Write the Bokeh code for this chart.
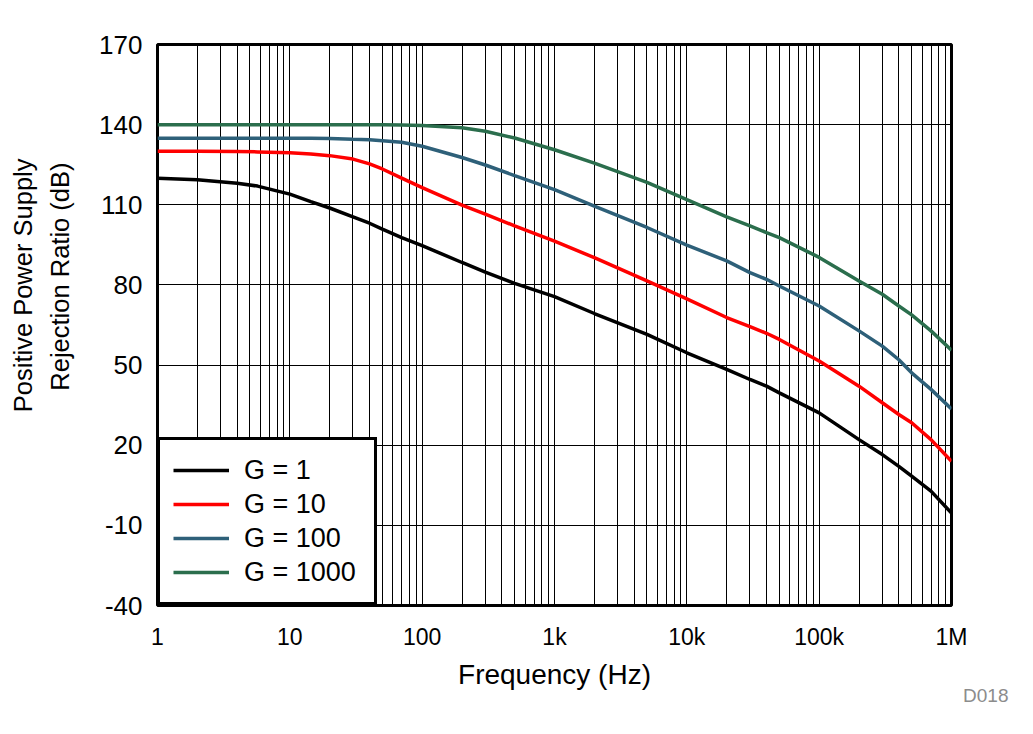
from bokeh.plotting import figure
from bokeh.models import FixedTicker, Legend, LegendItem, Range1d, Title
from bokeh.embed import file_html
from bokeh.resources import INLINE

# Frequency points (Hz)
freq = [1, 2, 4, 5.7, 10, 14.4, 20, 30, 40, 50, 70, 100, 200, 300, 500,
        1e3, 2e3, 5e3, 1e4, 2e4, 3e4, 4e4, 5e4, 1e5, 2e5, 3e5, 4e5, 5e5,
        7e5, 1e6]

# PSRR (dB) per gain
g1 = [119.9, 119.4, 118.1, 117, 114, 111.2, 108.8, 105.5, 103.1, 100.9,
      97.7, 94.7, 88.4, 84.8, 80.6, 75.6, 69.3, 61.5, 54.6, 48.4, 44.6,
      42.1, 39.6, 32.1, 22.1, 16.5, 12.1, 8.4, 2.8, -5.4]
g10 = [130, 130, 129.9, 129.8, 129.5, 129, 128.4, 127.1, 125.3, 123.4,
       120.0, 116.4, 109.9, 106.5, 102.1, 96.4, 90.2, 81.5, 74.8, 67.8, 64.4,
       61.9, 59.6, 51.5, 42.1, 35.9, 31.5, 28.4, 22.1, 14]
g100 = [134.9, 134.9, 134.9, 134.9, 134.9, 134.9, 134.8, 134.5, 134.3, 134,
        133.4, 131.9, 127.7, 124.9, 120.9, 115.7, 109.5, 101.5, 94.9, 89, 84.6,
        82.1, 79.6, 72.1, 62.8, 57.1, 52, 47.1, 40.9, 33.6]
g1000 = [140, 140, 140, 140, 140, 140, 140, 140, 140, 140, 139.9, 139.7,
         138.8, 137.5, 135, 130.6, 125.6, 118.4, 111.9, 105.5, 102.1, 99.6,
         97.7, 90.3, 81.5, 76.5, 72.1, 68.8, 62.8, 55.6]

series_names = ["G = 1", "G = 10", "G = 100", "G = 1000"]
series_values = [g1, g10, g100, g1000]
colors = ["#000000", "#FF0000", "#2E6079", "#2B6E4D"]

y_ticks = [-40, -10, 20, 50, 80, 110, 140, 170]
y_tick_labels = ["-40", "-10", "20", "50", "80", "110", "140", "170"]
x_ticks = [1, 10, 100, 1000, 10000, 100000, 1000000]
x_tick_labels = ["1", "10", "100", "1k", "10k", "100k", "1M"]

p = figure(width=1017, height=718, x_axis_type="log",
           x_range=Range1d(1, 1e6), y_range=Range1d(-40, 170),
           output_backend="svg", toolbar_location=None,
           min_border_left=157, min_border_right=66,
           min_border_top=44, min_border_bottom=113)

p.outline_line_color = "black"
p.outline_line_width = 3
p.outline_line_alpha = 1.0
p.background_fill_color = "white"
p.border_fill_color = "white"

minor = [m * d for d in x_ticks[:-1] for m in range(2, 10)]
p.xaxis.ticker = FixedTicker(ticks=x_ticks, minor_ticks=minor)
p.xaxis.major_label_overrides = {t: l for t, l in zip(x_ticks, x_tick_labels)}
p.yaxis.ticker = FixedTicker(ticks=y_ticks)
p.yaxis.major_label_overrides = {t: l for t, l in zip(y_ticks, y_tick_labels)}

for ax in (p.xaxis, p.yaxis):
    ax.axis_line_color = None
    ax.major_tick_line_color = None
    ax.minor_tick_line_color = None

p.xaxis.major_label_text_font = "Liberation Sans"
p.xaxis.major_label_text_font_size = "23px"
p.xaxis.major_label_text_color = "black"
p.xaxis.major_label_standoff = 12
p.xaxis.axis_label = "Frequency (Hz)"
p.xaxis.axis_label_text_font = "Liberation Sans"
p.xaxis.axis_label_text_font_size = "28px"
p.xaxis.axis_label_text_font_style = "normal"
p.xaxis.axis_label_text_color = "black"
p.xaxis.axis_label_standoff = 6

p.yaxis.major_label_text_font = "Liberation Sans"
p.yaxis.major_label_text_font_size = "26px"
p.yaxis.major_label_text_color = "black"
p.yaxis.major_label_standoff = 9

p.xgrid.grid_line_color = "black"
p.xgrid.grid_line_width = 1
p.xgrid.grid_line_alpha = 1.0
p.xgrid.minor_grid_line_color = "black"
p.xgrid.minor_grid_line_width = 1
p.xgrid.minor_grid_line_alpha = 1.0
p.ygrid.grid_line_color = "black"
p.ygrid.grid_line_width = 1
p.ygrid.grid_line_alpha = 1.0

items = []
for name, vals, c in zip(series_names, series_values, colors):
    r = p.line(freq, vals, line_color=c, line_width=3.5)
    items.append(LegendItem(label=name, renderers=[r]))

legend = Legend(items=items, location=(0, 0), border_line_color="black",
                border_line_alpha=1.0, border_line_width=3,
                background_fill_color="white", background_fill_alpha=1.0,
                padding=13, spacing=0, glyph_width=56, glyph_height=34,
                label_height=34, label_standoff=15, label_width=117, margin=0,
                label_text_font="Liberation Sans", label_text_font_size="27px",
                label_text_color="black")
p.add_layout(legend, "center")

# y-axis title, two centred lines (inner line added first)
ytitle2 = Title(text="Rejection Ratio (dB)", align="right",
                text_font="Liberation Sans", text_font_size="25.5px",
                text_font_style="normal", text_color="black", offset=118,
                standoff=45)
p.add_layout(ytitle2, "left")
ytitle1 = Title(text="Positive Power Supply", align="right",
                text_font="Liberation Sans", text_font_size="25.5px",
                text_font_style="normal", text_color="black", offset=114,
                standoff=-30)
p.add_layout(ytitle1, "left")

dtitle = Title(text="D018", align="right", text_font="Liberation Sans",
               text_font_size="19px", text_font_style="normal",
               text_color="#8C8C8C", offset=-57, standoff=-26)
p.add_layout(dtitle, "below")

open("out.html", "w").write(file_html(p, INLINE))
